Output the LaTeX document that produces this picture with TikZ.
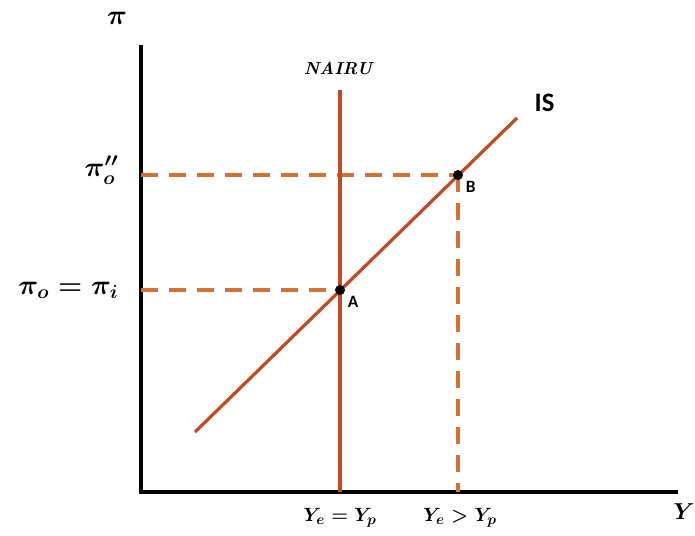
\documentclass[tikz,border=0pt]{standalone}
\usepackage{amsmath,amssymb}
\usepackage{fontspec}
\newfontfamily\labelfont{Carlito}
\usetikzlibrary{positioning}

\definecolor{curvered}{RGB}{196,72,32}
\definecolor{guideorange}{RGB}{214,112,52}

\begin{document}
\begin{tikzpicture}[
    x=0.75pt, y=-0.75pt,
    axis/.style={draw=black, line width=2.6pt},
    curve/.style={draw=curvered, line width=2.4pt},
    guide/.style={draw=guideorange, line width=2.4pt, dash pattern=on 13pt off 8pt},
    pt/.style={circle, fill=black, inner sep=0pt, minimum size=7.5pt},
    mlbl/.style={font=\boldmath\fontsize{21}{24}\selectfont, inner sep=1pt},
    xlbl/.style={font=\boldmath\fontsize{15}{18}\selectfont, inner sep=1pt},
    plbl/.style={font=\labelfont\bfseries\fontsize{13}{15}\selectfont, inner sep=1pt}
  ]
  \useasboundingbox (0,0) rectangle (695,535);
  % axes
  \coordinate (O) at (141,492);
  \coordinate (ytop) at (141,45);
  \coordinate (xend) at (678,492);
  \draw[axis] (ytop) -- (O) -- (xend);
  \node[font=\boldmath\fontsize{21}{24}\selectfont] (pilbl) at (117,18) {$\pi$};
  \node[font=\boldmath\fontsize{17}{20}\selectfont, anchor=east, inner sep=0pt] (ylbl) at (695,512) {$Y$};
  % NAIRU and IS
  \coordinate (ntop) at (340,90);
  \coordinate (nbot) at (340,492);
  \coordinate (isstart) at (195,432);
  \coordinate (isend) at (517,118);
  \coordinate (A) at (340,290);
  \coordinate (B) at (458,175);
  \coordinate (pia) at (141,290);
  \coordinate (pib) at (141,175);
  \coordinate (yb) at (458,492);
  \draw[guide] (pia) -- (A);
  \draw[guide] (pib) -- (B);
  \draw[guide] (B) -- (yb);
  \draw[curve] (ntop) -- (nbot);
  \draw[curve] (isstart) -- (isend);
  \node[pt] (ptA) at (A) {};
  \node[pt] (ptB) at (B) {};
  % labels
  \node[font=\bfseries\itshape\fontsize{13}{15}\selectfont] (nairu) at (338,68) {NAIRU};
  \node[font=\labelfont\bfseries\fontsize{20}{23}\selectfont, anchor=west] (islbl) at (530,103) {IS};
  \node[plbl, below right=1pt and 2pt of ptA] (albl) {A};
  \node[plbl, below right=1pt and 2pt of ptB] (blbl) {B};
  \node[mlbl, anchor=east] (piolbl) at (120,290) {$\pi_o=\pi_i$};
  \node[mlbl, anchor=east] (pioolbl) at (120,170) {$\pi_o^{\prime\prime}$};
  \node[xlbl] (yelbl) at (340,518) {$Y_e=Y_p$};
  \node[xlbl] (ygtlbl) at (460,518) {$Y_e>Y_p$};
\end{tikzpicture}
\end{document}
